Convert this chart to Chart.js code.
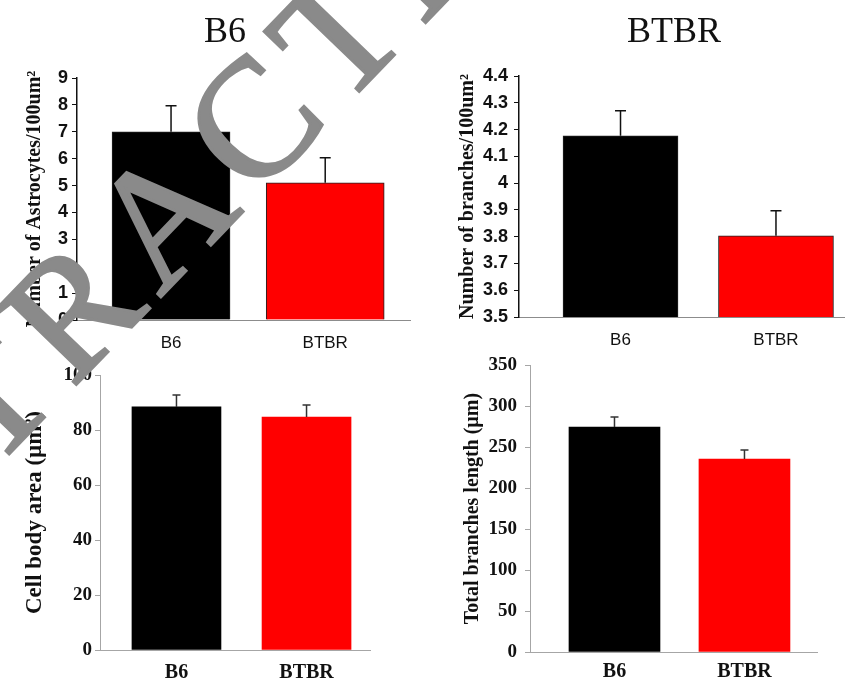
<!DOCTYPE html>
<html>
<head>
<meta charset="utf-8">
<script src="https://cdn.jsdelivr.net/npm/chart.js@4.4.1/dist/chart.umd.min.js"></script>
<style>
  html, body { margin: 0; padding: 0; background: #fff; }
  #page { position: relative; width: 845px; height: 684px; overflow: hidden; background: #fff; }
  .layer { position: absolute; left: 0; top: 0; width: 845px; height: 684px; }
  svg.overlay { position: absolute; left: 0; top: 0; pointer-events: none; }
</style>
</head>
<body>
<div id="page">
  <div class="layer"><canvas id="astroChart"></canvas></div>
  <div class="layer"><canvas id="branchChart"></canvas></div>
  <div class="layer"><canvas id="cellChart"></canvas></div>
  <div class="layer"><canvas id="lengthChart"></canvas></div>
  <svg class="overlay" width="845" height="684">
    <text x="225" y="42" text-anchor="middle" font-family="Liberation Serif" font-size="36" fill="#111">B6</text>
    <text x="674" y="42" text-anchor="middle" font-family="Liberation Serif" font-size="36" fill="#111">BTBR</text>
    <text x="210" y="246" text-anchor="middle" font-family="Liberation Serif" font-size="168" letter-spacing="14"
          fill="#8a8a8a" stroke="#8a8a8a" stroke-width="3" transform="rotate(-46 210 246)">RETRACTED</text>
  </svg>
</div>
<script>
// group names and colours
const groups = ['B6', 'BTBR'];
const barColors = ['#000000', '#ff0000'];

// astrocyte density (top left)
const astroValues = [7.0, 5.1];
const astroErrors = [0.97, 0.93];
const astroRange = [0, 9, 1];

// branches per area (top right)
const branchValues = [4.177, 3.803];
const branchErrors = [0.093, 0.094];
const branchRange = [3.5, 4.4, 0.1];

// cell body area (bottom left)
const cellValues = [88.4, 84.7];
const cellErrors = [4.3, 4.4];
const cellRange = [0, 100, 20];

// total branch length (bottom right)
const lengthValues = [274.4, 235.4];
const lengthErrors = [12.2, 11];
const lengthRange = [0, 350, 50];

const PAGE_W = 845, PAGE_H = 684;

// simple up-only error bars
const errorBarPlugin = {
    id: 'errorBars',
    afterDatasetsDraw(chart, args, opts) {
        const meta = chart.getDatasetMeta(0);
        const yScale = chart.scales.y;
        const ctx = chart.ctx;
        const data = chart.data.datasets[0].data;
        ctx.save();
        ctx.strokeStyle = opts.color;
        ctx.lineWidth = opts.width;
        meta.data.forEach((bar, i) => {
            const top = yScale.getPixelForValue(data[i].y + opts.errors[i]);
            ctx.beginPath();
            ctx.moveTo(bar.x, bar.y);
            ctx.lineTo(bar.x, top);
            ctx.moveTo(bar.x - opts.cap / 2, top);
            ctx.lineTo(bar.x + opts.cap / 2, top);
            ctx.stroke();
        });
        ctx.restore();
    }
};

function padFor(area, yWidth, xHeight) {
    return {
        left: area.left - yWidth,
        top: area.top,
        right: PAGE_W - area.right,
        bottom: PAGE_H - area.bottom - xHeight
    };
}

function buildChart(id, o) {
    return new Chart(document.getElementById(id), {
        type: 'bar',
        data: {
            datasets: [{
                data: groups.map((g, i) => ({ x: i, y: o.values[i] })),
                backgroundColor: barColors,
                borderColor: o.barBorder,
                borderWidth: o.barBorderWidth,
                barThickness: o.barWidth
            }]
        },
        options: {
            responsive: true,
            maintainAspectRatio: false,
            animation: false,
            layout: { padding: padFor(o.area, o.yWidth, o.xHeight) },
            plugins: {
                legend: { display: false },
                tooltip: { enabled: false },
                errorBars: { errors: o.errors, color: o.errColor, width: o.errWidth, cap: o.cap }
            },
            scales: {
                x: {
                    type: 'linear',
                    min: o.xRange[0],
                    max: o.xRange[1],
                    offset: false,
                    grid: { display: false, drawTicks: false },
                    border: { display: true, color: o.xAxisColor, width: 1 },
                    afterBuildTicks: s => { s.ticks = groups.map((g, i) => ({ value: i })); },
                    afterFit: s => { s.height = o.xHeight; },
                    ticks: {
                        callback: v => groups[v],
                        font: o.xFont,
                        color: '#111',
                        padding: o.xPad,
                        maxRotation: 0,
                        autoSkip: false
                    }
                },
                y: {
                    min: o.range[0],
                    max: o.range[1],
                    ticks: {
                        stepSize: o.range[2],
                        callback: v => String(+v.toFixed(1)),
                        font: o.yFont,
                        color: '#111',
                        padding: o.yPad
                    },
                    grid: { drawOnChartArea: false, drawTicks: true, tickLength: 5, color: o.yAxisColor, lineWidth: 1 },
                    border: { display: true, color: o.yAxisColor, width: o.yAxisWidth },
                    title: {
                        display: true,
                        text: o.yTitle,
                        font: o.titleFont,
                        color: '#111',
                        padding: { top: o.titlePad, bottom: 0 }
                    },
                    afterFit: s => { s.width = o.yWidth; }
                }
            }
        },
        plugins: [errorBarPlugin]
    });
}

const sansTick = { family: 'Liberation Sans', size: 18, weight: 'bold' };
const sansLabel = { family: 'Liberation Sans', size: 17 };
const serifTick = { family: 'Liberation Serif', size: 19, weight: 'bold' };
const serifLabel = { family: 'Liberation Serif', size: 20, weight: 'bold' };

buildChart('astroChart', {
    values: astroValues, errors: astroErrors, range: astroRange,
    yTitle: 'Number of Astrocytes/100um²',
    area: { left: 77, top: 78, right: 410, bottom: 320 },
    yWidth: 60, xHeight: 40, xRange: [-0.61, 1.55], barWidth: 118,
    barBorder: '#222', barBorderWidth: 1,
    xAxisColor: '#8c8c8c', yAxisColor: '#111', yAxisWidth: 1.5,
    xFont: sansLabel, yFont: sansTick, xPad: 13, yPad: 4,
    titleFont: { family: 'Liberation Serif', size: 20, weight: 'bold' }, titlePad: 6,
    errColor: '#111', errWidth: 1.5, cap: 11
});

buildChart('branchChart', {
    values: branchValues, errors: branchErrors, range: branchRange,
    yTitle: 'Number of branches/100um²',
    area: { left: 519, top: 76, right: 845, bottom: 317 },
    yWidth: 70, xHeight: 40, xRange: [-0.653, 1.444], barWidth: 115,
    barBorder: '#222', barBorderWidth: 1,
    xAxisColor: '#8c8c8c', yAxisColor: '#111', yAxisWidth: 1.5,
    xFont: sansLabel, yFont: sansTick, xPad: 13, yPad: 6,
    titleFont: { family: 'Liberation Serif', size: 20, weight: 'bold' }, titlePad: 7,
    errColor: '#111', errWidth: 1.5, cap: 11
});

buildChart('cellChart', {
    values: cellValues, errors: cellErrors, range: cellRange,
    yTitle: 'Cell body area (µm²)',
    area: { left: 100, top: 375, right: 370, bottom: 650 },
    yWidth: 80, xHeight: 34, xRange: [-0.588, 1.488], barWidth: 89,
    barBorder: '#000', barBorderWidth: 0,
    xAxisColor: '#a6a6a6', yAxisColor: '#a6a6a6', yAxisWidth: 1,
    xFont: serifLabel, yFont: serifTick, xPad: 11, yPad: 3,
    titleFont: { family: 'Liberation Serif', size: 23, weight: 'bold' }, titlePad: 1,
    errColor: '#333', errWidth: 1.5, cap: 8
});

buildChart('lengthChart', {
    values: lengthValues, errors: lengthErrors, range: lengthRange,
    yTitle: 'Total branches length (µm)',
    area: { left: 530, top: 365, right: 817, bottom: 652 },
    yWidth: 70, xHeight: 32, xRange: [-0.65, 1.558], barWidth: 91,
    barBorder: '#000', barBorderWidth: 0,
    xAxisColor: '#a6a6a6', yAxisColor: '#a6a6a6', yAxisWidth: 1,
    xFont: serifLabel, yFont: serifTick, xPad: 8, yPad: 8,
    titleFont: { family: 'Liberation Serif', size: 20, weight: 'bold' }, titlePad: 1,
    errColor: '#333', errWidth: 1.5, cap: 8
});
</script>
</body>
</html>
